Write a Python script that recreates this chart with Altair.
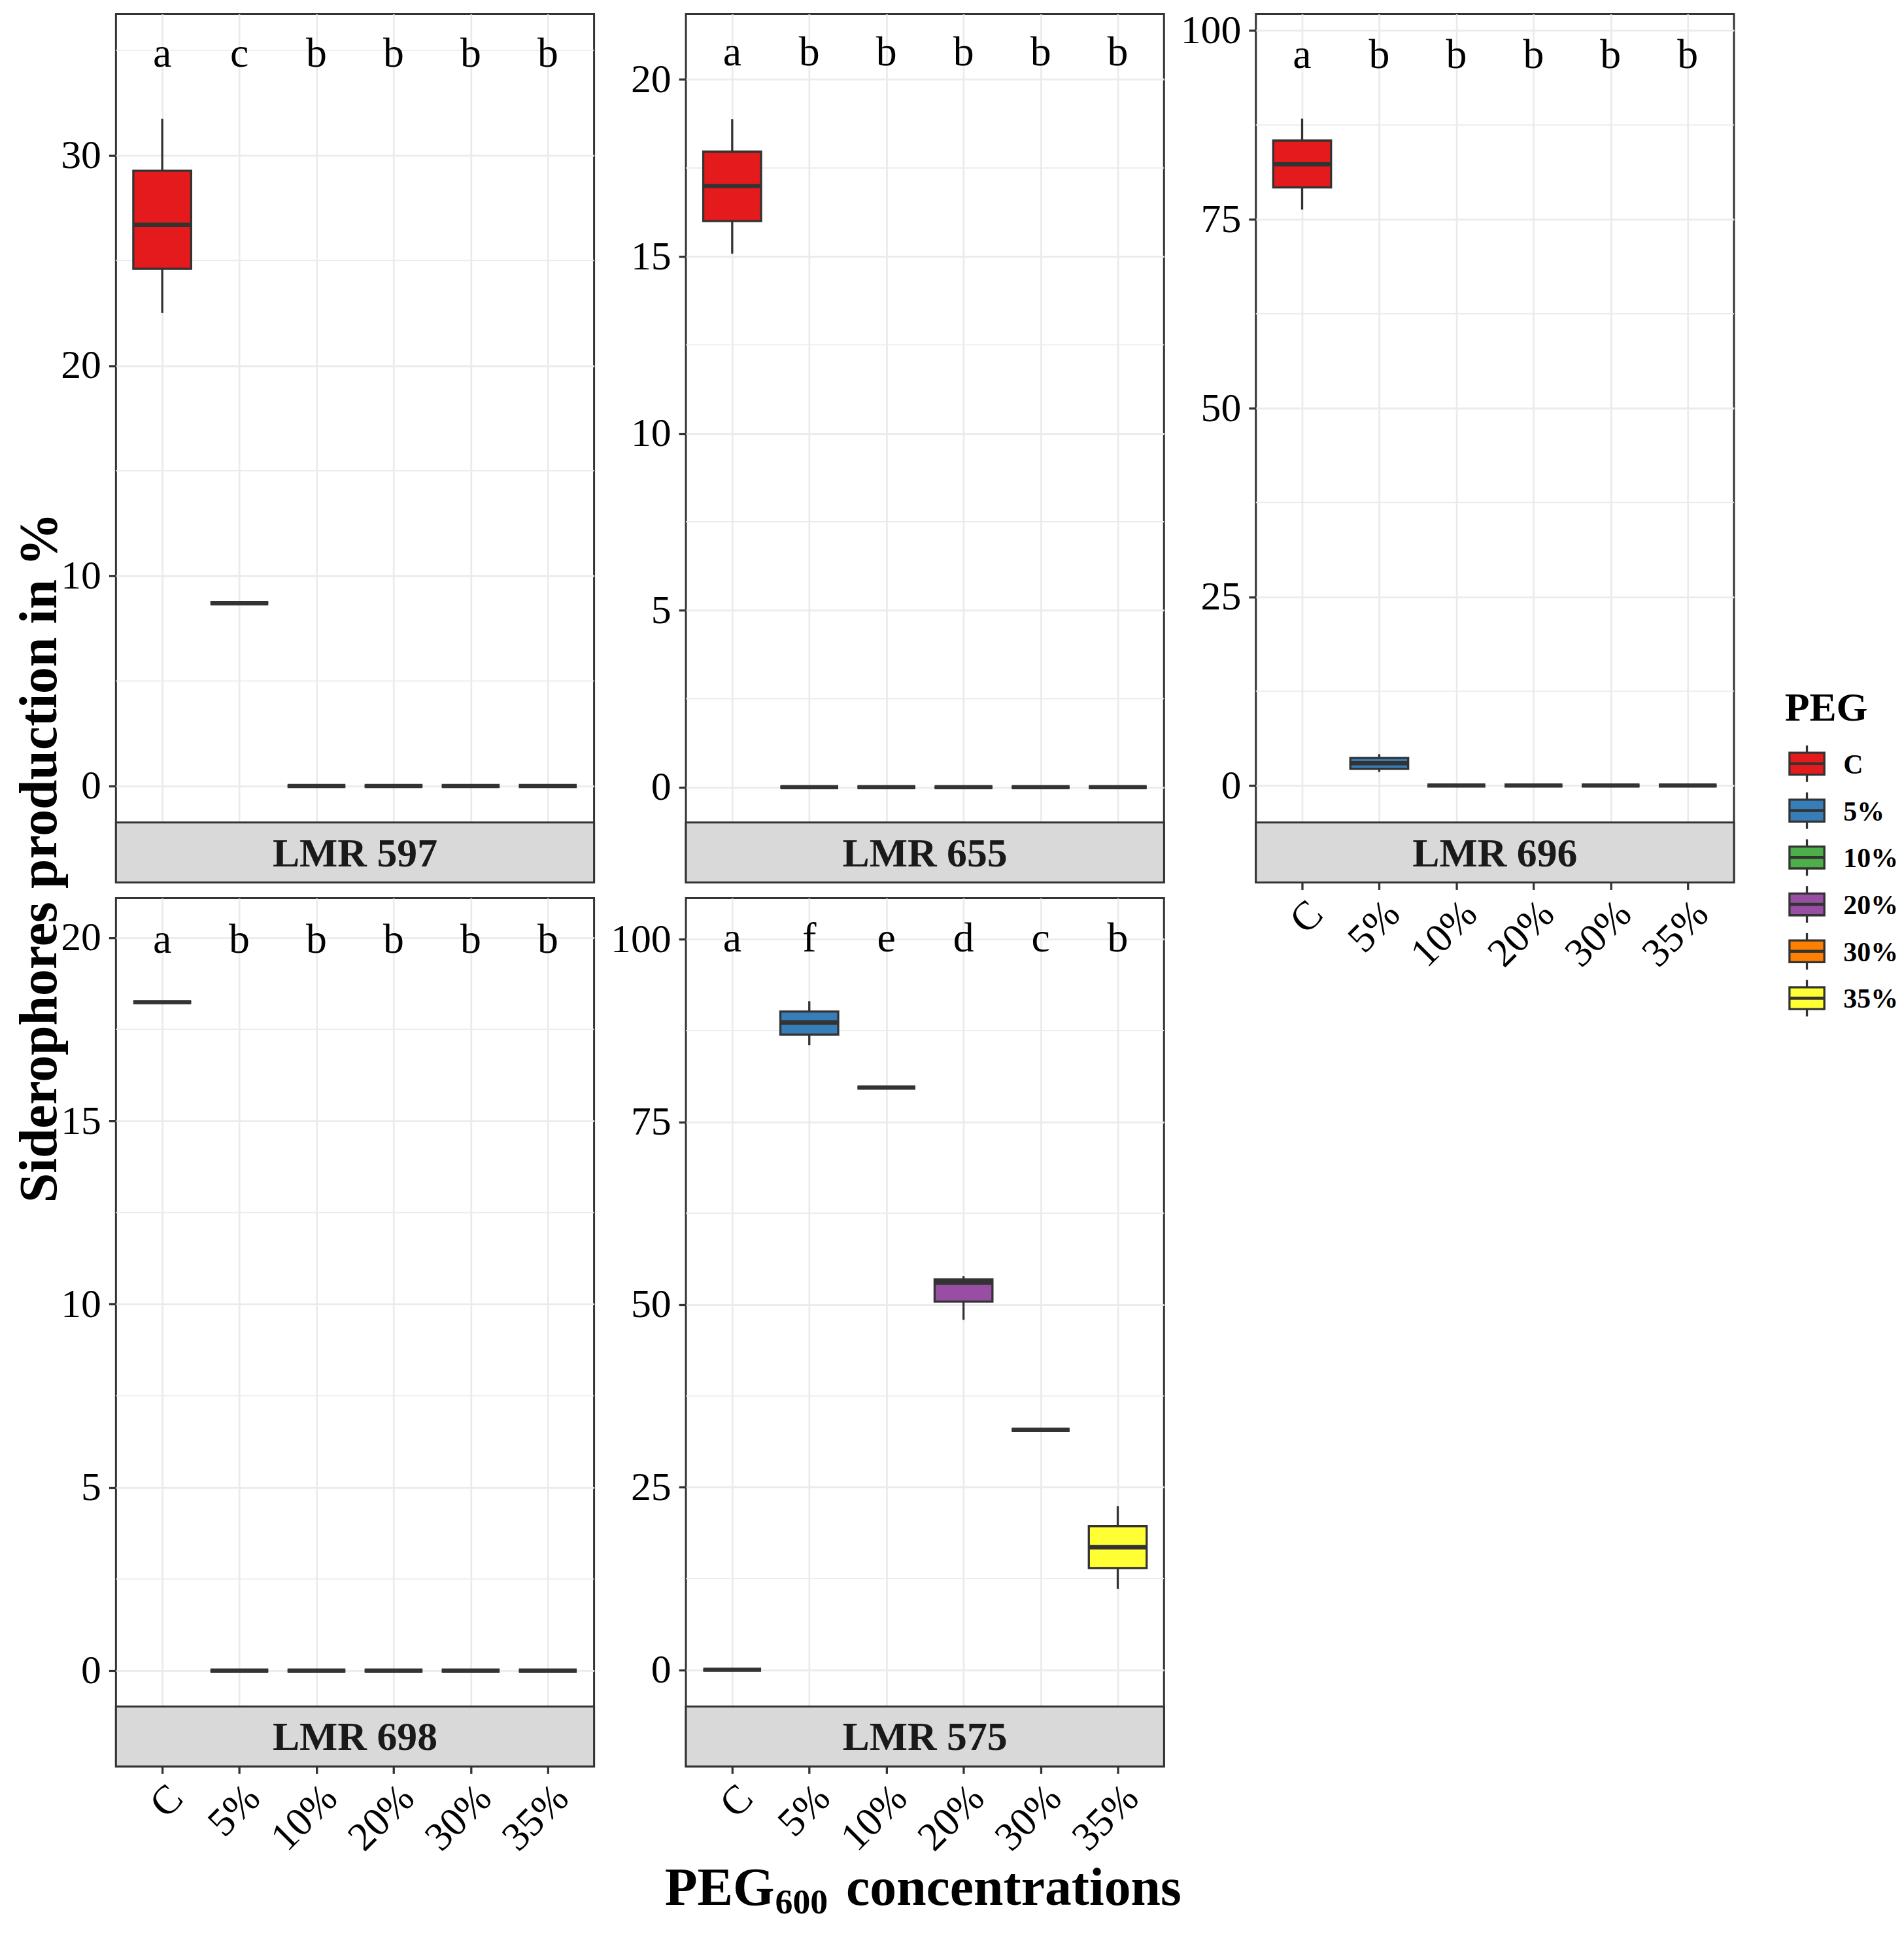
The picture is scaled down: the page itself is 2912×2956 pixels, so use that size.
import json
import altair as alt
import pandas as pd

# ---------------- data ----------------
CATS = ["C", "5%", "10%", "20%", "30%", "35%"]
COLORS = ["#E41A1C", "#377EB8", "#4DAF4A", "#984EA3", "#FF7F00", "#FFFF33"]
STRAINS = ["LMR 597", "LMR 655", "LMR 696", "LMR 698", "LMR 575"]

# box statistics per strain (lower whisker, Q1, median, Q3, upper whisker) for C,5%,10%,20%,30%,35%
LMR597_LOW = [22.5, 8.7, 0, 0, 0, 0]
LMR597_Q1 = [24.6, 8.7, 0, 0, 0, 0]
LMR597_MED = [26.7, 8.7, 0, 0, 0, 0]
LMR597_Q3 = [29.27, 8.7, 0, 0, 0, 0]
LMR597_UP = [31.74, 8.7, 0, 0, 0, 0]

LMR655_LOW = [15.08, 0, 0, 0, 0, 0]
LMR655_Q1 = [16.0, 0, 0, 0, 0, 0]
LMR655_MED = [16.99, 0, 0, 0, 0, 0]
LMR655_Q3 = [17.96, 0, 0, 0, 0, 0]
LMR655_UP = [18.88, 0, 0, 0, 0, 0]

LMR696_LOW = [76.29, 1.8, 0, 0, 0, 0]
LMR696_Q1 = [79.24, 2.23, 0, 0, 0, 0]
LMR696_MED = [82.3, 2.94, 0, 0, 0, 0]
LMR696_Q3 = [85.44, 3.65, 0, 0, 0, 0]
LMR696_UP = [88.35, 4.16, 0, 0, 0, 0]

LMR698_LOW = [18.24, 0, 0, 0, 0, 0]
LMR698_Q1 = [18.24, 0, 0, 0, 0, 0]
LMR698_MED = [18.24, 0, 0, 0, 0, 0]
LMR698_Q3 = [18.24, 0, 0, 0, 0, 0]
LMR698_UP = [18.24, 0, 0, 0, 0, 0]

LMR575_LOW = [0, 85.5, 79.7, 47.9, 32.84, 11.07]
LMR575_Q1 = [0, 86.95, 79.7, 50.4, 32.84, 13.93]
LMR575_MED = [0, 88.6, 79.7, 53.0, 32.84, 16.77]
LMR575_Q3 = [0, 90.1, 79.7, 53.45, 32.84, 19.67]
LMR575_UP = [0, 91.5, 79.7, 53.9, 32.84, 22.4]

LOW = [LMR597_LOW, LMR655_LOW, LMR696_LOW, LMR698_LOW, LMR575_LOW]
Q1 = [LMR597_Q1, LMR655_Q1, LMR696_Q1, LMR698_Q1, LMR575_Q1]
MED = [LMR597_MED, LMR655_MED, LMR696_MED, LMR698_MED, LMR575_MED]
Q3 = [LMR597_Q3, LMR655_Q3, LMR696_Q3, LMR698_Q3, LMR575_Q3]
UP = [LMR597_UP, LMR655_UP, LMR696_UP, LMR698_UP, LMR575_UP]

LETTERS = [
    ["a", "c", "b", "b", "b", "b"],
    ["a", "b", "b", "b", "b", "b"],
    ["a", "b", "b", "b", "b", "b"],
    ["a", "b", "b", "b", "b", "b"],
    ["a", "f", "e", "d", "c", "b"],
]
LETTER_Y = [34.8, 20.75, 96.7, 19.93, 100.0]

Y_LO = [-1.735, -1.0, -4.9, -0.98, -5.03]
Y_HI = [36.72, 21.85, 102.2, 21.08, 105.63]
Y_MAJOR = [[0, 10, 20, 30], [0, 5, 10, 15, 20], [0, 25, 50, 75, 100],
           [0, 5, 10, 15, 20], [0, 25, 50, 75, 100]]
Y_MINOR = [[5, 15, 25, 35], [2.5, 7.5, 12.5, 17.5], [12.5, 37.5, 62.5, 87.5],
           [2.5, 7.5, 12.5, 17.5], [12.5, 37.5, 62.5, 87.5]]

Y_TITLE = "Siderophores production in %"
X_TITLE_MAIN = "PEG"
X_TITLE_SUB = "600"
X_TITLE_REST = "concentrations"
LEGEND_TITLE = "PEG"

# ---------------- styling ----------------
FONT = "Liberation Serif"
DARK = "#333333"
GRID = "#EBEBEB"
PW, PH, SH = 734, 1241, 92
LINE = 3.3

color_scale = alt.Scale(domain=CATS, range=COLORS)
label_expr = json.dumps(CATS) + "[datum.value]"


def panel(k, show_x):
    df = pd.DataFrame({
        "cat": CATS, "xi": list(range(len(CATS))),
        "lw": LOW[k], "q1": Q1[k], "med": MED[k], "q3": Q3[k], "uw": UP[k],
        "letter": LETTERS[k], "ly": [LETTER_Y[k]] * len(CATS),
    })
    lo, hi = Y_LO[k], Y_HI[k]
    slo = lo - SH * (hi - lo) / PH
    xs = alt.Scale(domain=[-0.6, len(CATS) - 0.4], nice=False, zero=False)
    ys = alt.Scale(domain=[slo, hi], nice=False, zero=False)
    common_x = dict(values=list(range(len(CATS))), grid=True, gridColor=GRID,
                    gridWidth=2.8, domain=False, title=None)
    if show_x:
        xaxis = alt.Axis(**common_x, labelExpr=label_expr, ticks=True,
                         tickColor=DARK, tickWidth=LINE, tickSize=11,
                         labelAngle=-45, labelAlign="right", labelBaseline="top",
                         labelFont=FONT, labelFontSize=62, labelColor="#000000",
                         labelPadding=6, labelFlush=False, labelOverlap=False,
                         labelBound=False)
    else:
        xaxis = alt.Axis(**common_x, ticks=False, labels=False)
    yaxis = alt.Axis(values=Y_MAJOR[k], grid=True, gridColor=GRID, gridWidth=2.8,
                     domain=False, ticks=True, tickColor=DARK, tickWidth=LINE,
                     tickSize=11, labelFont=FONT, labelFontSize=62,
                     labelColor="#000000", labelPadding=12, labelFlush=False,
                     labelOverlap=False, title=None)

    def X(f):
        return alt.X(f, type="quantitative", scale=xs, axis=xaxis)

    def Y(f):
        return alt.Y(f, type="quantitative", scale=ys, axis=yaxis)

    minor = alt.Chart(pd.DataFrame({"v": Y_MINOR[k]})).mark_rule(
        color=GRID, strokeWidth=1.8).encode(
        y=Y("v"), x=alt.value(0), x2=alt.value(PW))

    base = alt.Chart(df).transform_calculate(
        x0="datum.xi - 0.375", x1="datum.xi + 0.375")
    whisk = base.mark_rule(color=DARK, strokeWidth=LINE).encode(
        x=X("xi"), y=Y("lw"), y2=alt.Y2("uw"))
    box = base.mark_rect(stroke=DARK, strokeWidth=LINE).encode(
        x=X("x0"), x2=alt.X2("x1"), y=Y("q1"), y2=alt.Y2("q3"),
        fill=alt.Color("cat:N", scale=color_scale, legend=None))
    med = base.mark_rule(color=DARK, strokeWidth=2 * LINE).encode(
        x=X("x0"), x2=alt.X2("x1"), y=Y("med"))
    letters = base.mark_text(font=FONT, fontSize=64, baseline="middle",
                             align="center", color="#000000").encode(
        x=X("xi"), y=Y("ly"), text="letter:N")

    sdf = pd.DataFrame({"s0": [slo], "s1": [lo], "sm": [(slo + lo) / 2],
                        "strain": [STRAINS[k]]})
    strip = alt.Chart(sdf).mark_rect(fill="#D9D9D9", stroke=DARK,
                                     strokeWidth=3.0).encode(
        x=alt.value(0), x2=alt.value(PW), y=Y("s0"), y2=alt.Y2("s1"))
    stext = alt.Chart(sdf).mark_text(font=FONT, fontSize=62, fontWeight="bold",
                                     align="center", baseline="alphabetic",
                                     dy=21, color="#1A1A1A").encode(
        x=alt.value(PW / 2), y=Y("sm"), text="strain:N")

    return alt.layer(minor, whisk, box, med, letters, strip, stext).properties(
        width=PW, height=PH + SH,
        view=alt.ViewBackground(stroke=DARK, strokeWidth=3.0, fill="white"))


def blank(w, h):
    return alt.Chart(pd.DataFrame({"z": [0]})).mark_point(opacity=0).encode(
        x=alt.value(0), y=alt.value(0)).properties(width=w, height=h)


# y title
YT_W = 25
ytitle = alt.Chart(pd.DataFrame({"t": [Y_TITLE]})).mark_text(
    angle=270, font=FONT, fontSize=82, fontWeight="bold", align="center",
    baseline="alphabetic", color="#000000").encode(
    x=alt.value(74), y=alt.value(1295), text="t:N").properties(width=YT_W, height=PH + SH)

# legend drawn as boxplot keys
KX, TX, LX = -29, -63, 27
ldf = pd.DataFrame({"cat": CATS, "idx": list(range(len(CATS)))})
lys = alt.Scale(domain=[0, PH + SH], range=[0, PH + SH], nice=False, zero=False)
lbase = alt.Chart(ldf).transform_calculate(
    ky="1150.7 + 72 * datum.idx",
).transform_calculate(
    w0="datum.ky - 28", w1="datum.ky + 28",
    b0="datum.ky - 16.75", b1="datum.ky + 16.75", ty="datum.ky + 15")


def LY(f):
    return alt.Y(f, type="quantitative", scale=lys, axis=None)


lw_ = lbase.mark_rule(color=DARK, strokeWidth=LINE).encode(
    x=alt.value(KX), y=LY("w0"), y2=alt.Y2("w1"))
lb_ = lbase.mark_rect(stroke=DARK, strokeWidth=LINE).encode(
    x=alt.value(KX - 26.75), x2=alt.value(KX + 26.75), y=LY("b0"), y2=alt.Y2("b1"),
    fill=alt.Color("cat:N", scale=color_scale, legend=None))
lm_ = lbase.mark_rule(color=DARK, strokeWidth=4.5).encode(
    x=alt.value(KX - 26.75), x2=alt.value(KX + 26.75), y=LY("ky"))
lt_ = lbase.mark_text(font=FONT, fontSize=42, fontWeight="bold", align="left",
                      baseline="alphabetic", color="#000000").encode(
    x=alt.value(LX), y=LY("ty"), text="cat:N")
ltitle = alt.Chart(pd.DataFrame({"t": [LEGEND_TITLE]})).mark_text(
    font=FONT, fontSize=62, fontWeight="bold", align="left", baseline="alphabetic",
    color="#000000").encode(x=alt.value(TX), y=alt.value(1085), text="t:N")
legend = alt.layer(lw_, lb_, lm_, lt_, ltitle).properties(width=1, height=PH + SH)

# x title with subscript (centred under the middle column)
xt_df = pd.DataFrame({"a": [X_TITLE_MAIN], "b": [X_TITLE_SUB], "c": [X_TITLE_REST]})
xt1 = alt.Chart(xt_df).mark_text(font=FONT, fontSize=82, fontWeight="bold",
                                 align="right", baseline="alphabetic",
                                 color="#000000").encode(
    x=alt.value(136), y=alt.value(188), text="a:N")
xt2 = alt.Chart(xt_df).mark_text(font=FONT, fontSize=54, fontWeight="bold",
                                 align="left", baseline="alphabetic",
                                 color="#000000").encode(
    x=alt.value(137), y=alt.value(201), text="b:N")
xt3 = alt.Chart(xt_df).mark_text(font=FONT, fontSize=82, fontWeight="bold",
                                 align="left", baseline="alphabetic",
                                 color="#000000").encode(
    x=alt.value(246), y=alt.value(188), text="c:N")
xtitle = alt.layer(xt1, xt2, xt3).properties(width=PW, height=216)

cells = [
    ytitle, panel(0, False), panel(1, False), panel(2, True), legend,
    blank(YT_W, 1), panel(3, True), panel(4, True), blank(1, 1), blank(1, 1),
    blank(YT_W, 1), blank(1, 1), xtitle, blank(1, 1), blank(1, 1),
]

chart = alt.concat(
    *cells, columns=5, spacing={"row": 24, "column": 141},
    bounds="flush", align="each",
).properties(padding=0, background="white").configure_view(stroke="transparent")

chart.save("out.html", embed_options={"renderer": "svg", "actions": False})
